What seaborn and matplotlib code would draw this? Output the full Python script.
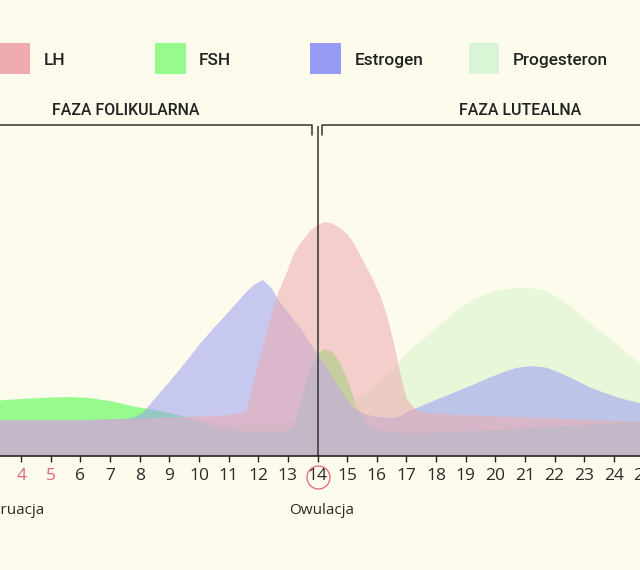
import numpy as np
import pandas as pd
import matplotlib
matplotlib.use("Agg")
import matplotlib.pyplot as plt
from matplotlib.patches import Rectangle
import seaborn as sns

# ---------------- data ----------------
days = [3.0, 4.0, 5.0, 5.6, 6.3, 7.0, 7.5, 7.8, 8.1, 8.5,
        9.0, 9.5, 10.0, 10.5, 11.0, 11.3, 11.6, 11.85, 12.15, 12.45,
        12.7, 13.0, 13.2, 13.45, 13.75, 14.0, 14.25, 14.5, 14.75, 15.0,
        15.2, 15.4, 15.6, 15.85, 16.1, 16.35, 16.6, 16.8, 17.0, 17.35,
        17.7, 18.2, 18.7, 19.2, 19.7, 20.2, 20.7, 21.2, 21.7, 22.2,
        22.7, 23.2, 23.7, 24.2, 24.7, 25.2]

lh = [36, 36, 36, 36, 36, 36.5, 37, 37, 37.5, 38,
      38.5, 39, 39.5, 40, 41, 42, 44, 75, 108, 142,
      165, 186, 202, 214, 225, 231, 234, 232.5, 228, 222,
      214, 203, 192, 178, 162, 140, 110, 82, 58, 45,
      43, 42, 41, 40.5, 40, 39.5, 39, 38.5, 38, 37,
      36.5, 36, 35.5, 35, 34.5, 34]

fsh = [55, 57, 58.5, 59, 58, 55, 51.5, 49.5, 48, 46,
       43, 39.5, 35, 30, 26.5, 25, 24.5, 24, 24, 24,
       24, 24, 28, 55, 86, 102, 107, 104, 94, 77,
       60, 44, 33, 27, 25, 24, 23.5, 23, 23, 23,
       23, 23.5, 24, 24.5, 25.5, 26, 27, 28, 29, 29.5,
       30.5, 31, 32, 33, 34, 34.5]

estrogen = [36, 36, 36, 36, 36, 36.5, 37, 38.5, 43, 57,
            74, 92, 111, 128, 144, 154, 164, 171, 176, 168,
            155, 144, 136, 127, 113, 102, 91, 79, 67, 56,
            49, 45, 42, 40, 39, 38.5, 38.5, 40, 44, 48,
            52.5, 58.5, 64.5, 70.5, 77, 83, 88, 90, 88.5, 83,
            76, 68.5, 63, 58, 54, 51]

progesteron = [36, 36, 36, 36, 36, 36, 36, 36, 36, 36,
               36, 36, 36, 36, 36, 36, 36, 36, 36, 36.5,
               37, 37, 37.5, 38, 39, 40, 42, 45, 48, 52,
               55, 59, 63, 68, 74, 80, 88, 96, 102, 112,
               120, 133, 145, 155, 162, 166.5, 168, 168, 165, 157,
               146, 133, 121, 109, 97, 86]

tick_days = list(range(1, 29))
red_days = [1, 2, 3, 4, 5]
ovulation_day = 14
legend_labels = ["LH", "FSH", "Estrogen", "Progesteron"]
phase_labels = ["FAZA FOLIKULARNA", "FAZA LUTEALNA"]
bottom_labels = ["Menstruacja", "Owulacja"]

# ---------------- style ----------------
BG = "#fdfbeb"
DARK = "#2b2b2b"
RED = "#e2647a"
sns.set_style("white")
plt.rcParams["font.family"] = ["Roboto", "DejaVu Sans"]
TICKFONT = ["Open Sans", "DejaVu Sans"]

fill_cols = {"LH": (238/255, 170/255, 175/255),
             "FSH": (150/255, 250/255, 140/255),
             "Estrogen": (150/255, 155/255, 245/255),
             "Progesteron": (215/255, 243/255, 205/255)}
fill_alpha = {"LH": 0.55, "FSH": 1.0, "Estrogen": 0.53, "Progesteron": 0.55}
legend_cols = ["#eeaaae", "#96fa8c", "#969bf5", "#d9f5d6"]
OVERLAP = "#c4b8c8"

df = pd.DataFrame({"day": days, "LH": lh, "FSH": fsh,
                   "Estrogen": estrogen, "Progesteron": progesteron})
long = df.melt(id_vars="day", var_name="hormon", value_name="poziom")

W, H = 640, 570
fig = plt.figure(figsize=(W / 100, H / 100), dpi=100, facecolor=BG)

# x mapping: day d at pixel 317.5 + (d-14)*29.63
PXD = 29.63
x_lo, x_hi = 0.5, 28.5
px_lo = 317.5 + (x_lo - 14) * PXD
px_hi = 317.5 + (x_hi - 14) * PXD
base_px, top_px = 456, 126
ax = fig.add_axes([px_lo / W, (H - base_px) / H, (px_hi - px_lo) / W,
                   (base_px - top_px) / H], facecolor=BG)
ax.set_xlim(x_lo, x_hi)
ax.set_ylim(0, base_px - top_px)

order = ["FSH", "Progesteron", "Estrogen", "LH"]
for z, name in enumerate(order):
    ax.fill_between(df["day"], 0, df[name], color=fill_cols[name],
                    alpha=fill_alpha[name], lw=0, zorder=1 + z)
sns.lineplot(data=long, x="day", y="poziom", hue="hormon",
             palette=fill_cols, lw=0, legend=False, ax=ax, zorder=6)

# region where FSH, estrogen and LH overlap
common = np.minimum.reduce([np.array(fsh), np.array(estrogen), np.array(lh)])
ax.fill_between(df["day"], 0, common, color=OVERLAP, lw=0, zorder=7)

ax.axvline(ovulation_day, color="#333333", lw=1.1, zorder=8)

# phase brackets
yb, yt = base_px - 124.5, base_px - 135
ax.plot([0, 13.80, 13.80], [yb, yb, yt], color="#333333", lw=1.1,
        clip_on=False, zorder=8)
ax.plot([14.16, 14.16, 30], [yt, yb, yb], color="#333333", lw=1.1,
        clip_on=False, zorder=8)

for s in ["top", "right", "left"]:
    ax.spines[s].set_visible(False)
ax.spines["bottom"].set_color("#222222")
ax.spines["bottom"].set_linewidth(1.2)
ax.spines["bottom"].set_zorder(9)
ax.set_yticks([])
ax.set_xticks(tick_days)
ax.set_xticklabels([str(d) for d in tick_days])
ax.tick_params(axis="x", direction="out", length=4.5, width=1.0,
               color="#222222", pad=4.5, labelsize=12.5, bottom=True)
for lbl, d in zip(ax.get_xticklabels(), tick_days):
    lbl.set_fontfamily(TICKFONT)
    lbl.set_color(RED if d in red_days else DARK)
ax.set_xlabel("")
ax.set_ylabel("")

# circle round the ovulation day label
ax.plot([ovulation_day], [base_px - 476.7], "o", ms=16.5, mfc="none",
        mec=RED, mew=0.9, clip_on=False, zorder=9)

ax.text(4.8, base_px - 510, bottom_labels[0], ha="right", va="center",
        fontsize=11, family=TICKFONT, color=DARK)
ax.text(14.15, base_px - 510, bottom_labels[1], ha="center", va="center",
        fontsize=11, family=TICKFONT, color=DARK)

# legend
patch_x = [-1, 155, 310, 468.6]
text_x = [44, 199, 355, 512.6]
for lab, col, px, tx in zip(legend_labels, legend_cols, patch_x, text_x):
    fig.add_artist(Rectangle((px / W, 1 - 74 / H), 30.5 / W, 30.7 / H,
                             transform=fig.transFigure, color=col, lw=0))
    fig.text(tx / W, 1 - 64.9 / H, lab, ha="left", va="baseline",
             fontsize=12.4, fontweight="medium", color="#222222")

fig.text(126 / W, 1 - 115.3 / H, phase_labels[0], ha="center",
         va="baseline", fontsize=11.4, fontweight="medium", color="#222222")
fig.text(520.5 / W, 1 - 115.3 / H, phase_labels[1], ha="center",
         va="baseline", fontsize=11.4, fontweight="medium", color="#222222")

fig.savefig("out.png", dpi=100, facecolor=BG)
